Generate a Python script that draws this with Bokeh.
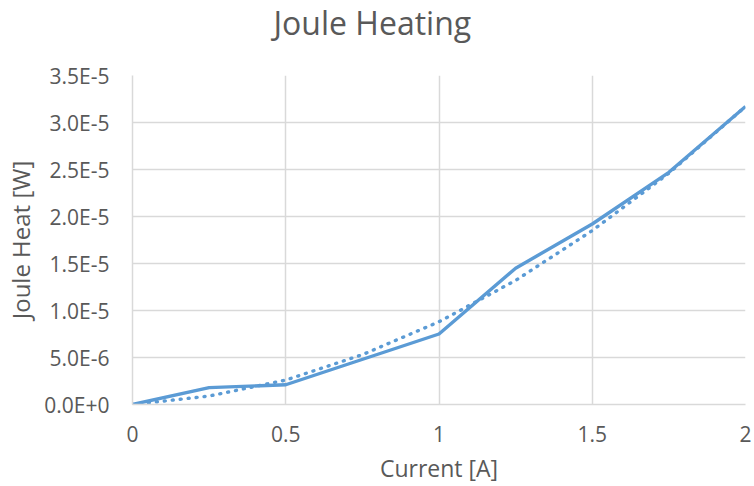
from bokeh.plotting import figure
from bokeh.models import Range1d, FixedTicker, Title
from bokeh.embed import file_html
from bokeh.resources import INLINE

# Data
current = [0, 0.25, 0.5, 1.0, 1.25, 1.5, 1.75, 2.0]
joule_heat = [0.0, 1.8e-6, 2.1e-6, 7.5e-6, 1.45e-5, 1.92e-5, 2.47e-5, 3.17e-5]

trend_current = [0, 0.25, 0.5, 0.75, 1.0, 1.25, 1.5, 1.75, 2.0]
trend_heat = [0.0, 0.9e-6, 2.6e-6, 5.3e-6, 8.8e-6, 1.32e-5, 1.85e-5, 2.46e-5, 3.17e-5]

x_ticks = [0, 0.5, 1, 1.5, 2]
x_tick_labels = ["0", "0.5", "1", "1.5", "2"]
y_ticks = [0, 5e-6, 1e-5, 1.5e-5, 2e-5, 2.5e-5, 3e-5, 3.5e-5]
y_tick_labels = ["0.0E+0", "5.0E-6", "1.0E-5", "1.5E-5", "2.0E-5", "2.5E-5", "3.0E-5", "3.5E-5"]

title_text = "Joule Heating"
x_title = "Current [A]"
y_title = "Joule Heat [W]"

FONT = "Open Sans"
TEXT = "#595959"
GRID = "#d9d9d9"
BLUE = "#5b9bd5"

W, H = 754, 486
ML, MR, MT, MB = 132, 9, 75, 82

p = figure(width=W, height=H, output_backend="svg", toolbar_location=None,
           x_range=Range1d(0, 2), y_range=Range1d(0, 3.5e-5),
           min_border_left=ML, min_border_right=MR, min_border_top=MT, min_border_bottom=MB)
p.outline_line_color = None
p.background_fill_color = "white"
p.border_fill_color = "white"

# spacer between frame and title, then the title itself (outermost)
p.add_layout(Title(text=" ", text_font_size="1px", standoff=27), "above")
p.add_layout(Title(text=title_text, text_font=FONT, text_font_size="32px",
                   text_font_style="normal", text_color=TEXT, align="left",
                   offset=141, vertical_align="top", standoff=0), "above")

p.line(current, joule_heat, line_color=BLUE, line_width=3.4, line_join="round")
p.line(trend_current, trend_heat, line_color=BLUE, line_width=3.4, line_dash="1 7", line_cap="round")

for ax in (p.xaxis[0], p.yaxis[0]):
    ax.axis_line_color = GRID
    ax.axis_line_width = 1.5
    ax.major_tick_line_color = None
    ax.minor_tick_line_color = None
    ax.major_tick_out = 0
    ax.major_tick_in = 0
    ax.major_label_text_font = FONT
    ax.major_label_text_font_size = "21px"
    ax.major_label_text_color = TEXT
    ax.axis_label_text_font = FONT
    ax.axis_label_text_font_style = "normal"
    ax.axis_label_text_color = TEXT

p.xaxis.ticker = FixedTicker(ticks=x_ticks)
p.xaxis.major_label_overrides = dict(zip(x_ticks, x_tick_labels))
p.yaxis.ticker = FixedTicker(ticks=y_ticks)
p.yaxis.major_label_overrides = dict(zip(y_ticks, y_tick_labels))
p.xaxis.major_label_standoff = 21
p.yaxis.major_label_standoff = 23

p.xaxis.axis_label = x_title
p.xaxis.axis_label_text_font_size = "23px"
p.xaxis.axis_label_standoff = 7
p.yaxis.axis_label = y_title
p.yaxis.axis_label_text_font_size = "24px"
p.yaxis.axis_label_standoff = 4

p.xgrid.ticker = FixedTicker(ticks=x_ticks)
p.ygrid.ticker = FixedTicker(ticks=y_ticks)
p.grid.grid_line_color = GRID
p.grid.grid_line_width = 1.5

open("out.html", "w").write(file_html(p, INLINE))
